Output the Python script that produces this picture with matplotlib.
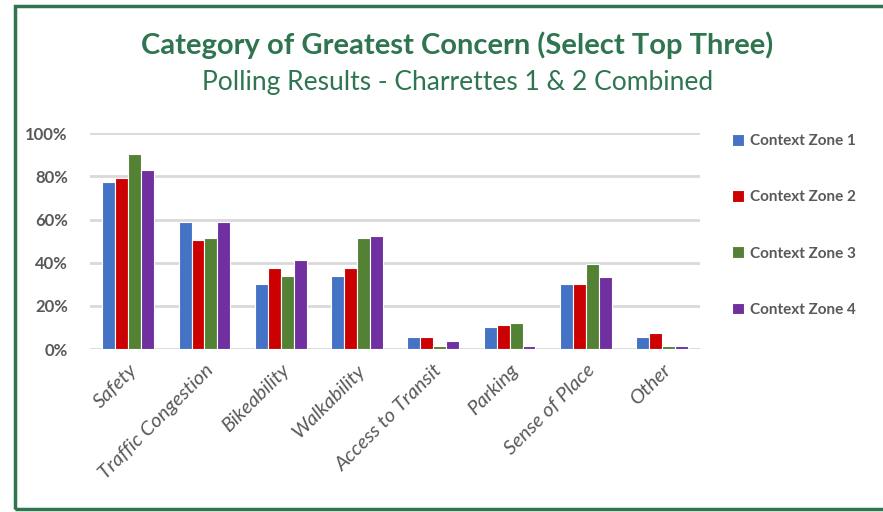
import numpy as np
import matplotlib.pyplot as plt
from matplotlib.patches import Rectangle
from matplotlib.ticker import PercentFormatter

categories = ["Safety", "Traffic Congestion", "Bikeability", "Walkability",
              "Access to Transit", "Parking", "Sense of Place", "Other"]
zones = ["Context Zone 1", "Context Zone 2", "Context Zone 3", "Context Zone 4"]
zone1 = [77.3, 58.9, 30.4, 34.1, 5.5, 10.2, 30.4, 5.5]
zone2 = [79.2, 50.6, 37.8, 37.8, 5.5, 11.1, 30.4, 7.4]
zone3 = [90.3, 51.5, 34.1, 51.5, 1.7, 12.0, 39.5, 1.7]
zone4 = [82.9, 58.9, 41.3, 52.5, 3.7, 1.7, 33.2, 1.7]

colors = ["#4472C4", "#CC0000", "#548235", "#7030A0"]
green = "#2E7550"
grey = "#595959"

plt.rcParams['font.family'] = ['Lato', 'DejaVu Sans']

fig = plt.figure(figsize=(8.83, 5.12), dpi=100)
ax = fig.add_axes([0.102, 0.318, 0.691, 0.422])

x = np.arange(len(categories))
w = 0.17
for i, vals in enumerate([zone1, zone2, zone3, zone4]):
    ax.bar(x + (i - 1.5) * w, vals, width=w, color=colors[i],
           edgecolor="white", linewidth=0.8, label=zones[i], zorder=3)

ax.set_xlim(-0.5, len(categories) - 0.5)
ax.set_ylim(0, 100)
ax.set_yticks(range(0, 101, 20))
ax.yaxis.set_major_formatter(PercentFormatter(decimals=0))
ax.grid(axis="y", color="#D9D9D9", linewidth=2, zorder=0)
for s in ax.spines.values():
    s.set_visible(False)
ax.tick_params(length=0)
ax.tick_params(axis="y", labelsize=12, labelcolor=grey, pad=16)
for t in ax.get_yticklabels():
    t.set_fontweight("bold")
ax.set_xticks(x)
ax.set_xticklabels(categories, rotation=45, ha="right", rotation_mode="anchor",
                   fontsize=14.5, color=grey, style="italic")
ax.tick_params(axis="x", pad=9)

fig.legend(loc="upper left", bbox_to_anchor=(0.813, 0.765), frameon=False,
           handlelength=0.8, handleheight=0.8, handletextpad=0.4,
           labelspacing=2.75, prop={"weight": "bold", "size": 11},
           labelcolor=grey)

fig.text(0.518, 0.912, "Category of Greatest Concern (Select Top Three)",
         ha="center", va="center", fontsize=21, fontweight="bold", color=green)
fig.text(0.518, 0.838, "Polling Results - Charrettes 1 & 2 Combined",
         ha="center", va="center", fontsize=19, color=green)

# outer frame
fig.patches.append(Rectangle((15 / 883, 3 / 512), 1.0, 503 / 512,
                             transform=fig.transFigure, fill=False,
                             edgecolor=green, linewidth=2.5))

fig.savefig("out.png", dpi=100)
